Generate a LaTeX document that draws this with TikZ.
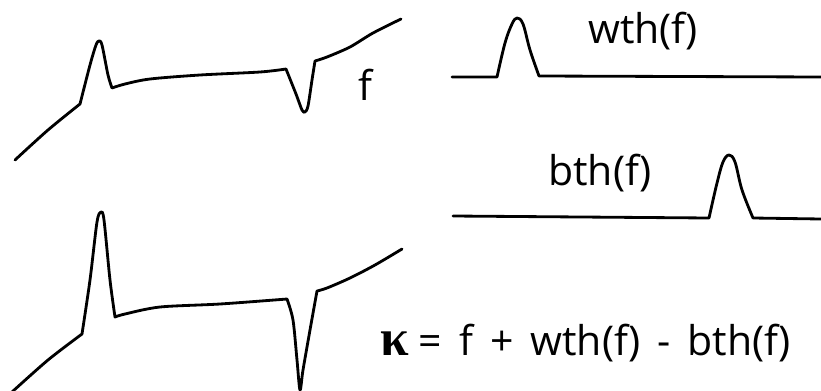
\documentclass[tikz,border=0pt]{standalone}
\usepackage{fontspec}
\setmainfont{Open Sans}
\newfontfamily\kapfont{Liberation Serif}
\tikzset{
  curve/.style={line width=2.4pt, line join=round, line cap=round},
  lbl/.style={anchor=base west, inner sep=0pt, font=\fontsize{35}{42}\selectfont}
}
\begin{document}
\begin{tikzpicture}[x=0.03cm,y=-0.03cm]
\useasboundingbox (0,0) rectangle (821,390);

% f
\draw[curve] plot[smooth] coordinates {(15,160) (48,130) (80,104)}
  -- plot[smooth,tension=0.5] coordinates {(80,104) (90,65) (96,45) (99,41) (102,45) (108,75) (112,88)}
  -- plot[smooth] coordinates {(112,88) (125,84) (150,79) (200,75) (260,72) (286,69)}
  -- plot[smooth,tension=0.5] coordinates {(286,69) (296,94) (302,110) (305,112) (308,106) (312,80) (315,61)}
  -- plot[smooth] coordinates {(315,61) (327,57) (350,47) (373,33) (401,19)};
\node[lbl] (flbl) at (358,100) {f};

% wth(f)
\draw[curve] (452,77) -- (497,77)
  -- plot[smooth,tension=0.6] coordinates {(497,77) (505,43) (512,24) (517,18) (523,24) (530,50) (539,76)}
  -- (821,77);
\node[lbl] (wthlbl) at (588,43) {wth(f)};

% bth(f)
\draw[curve] (453,216) -- (709,218)
  -- plot[smooth,tension=0.6] coordinates {(709,218) (717,183) (723,162) (729,155) (735,162) (742,190) (753,218)}
  -- (821,219);
\node[lbl] (bthlbl) at (548,185) {bth(f)};

% kappa
\draw[curve] plot[smooth] coordinates {(12,392) (48,360) (82,334)}
  -- plot[smooth,tension=0.5] coordinates {(82,334) (90,280) (97,222) (101,212) (104,220) (110,280) (115,317)}
  -- plot[smooth] coordinates {(115,317) (125,314) (160,307) (220,304) (287,299)}
  -- plot[smooth,tension=0.5] coordinates {(287,299) (293,320) (297,360) (300,390) (303,370) (310,330) (317,291)}
  -- plot[smooth] coordinates {(317,291) (327,288) (350,278) (375,265) (402,249)};
\node[lbl] (kaplbl) at (380,355) {\spaceskip=14.5pt{\kapfont\bfseries\fontsize{44}{50}\selectfont κ}\hspace{-6pt} = f + wth(f) - bth(f)};
\end{tikzpicture}
\end{document}
